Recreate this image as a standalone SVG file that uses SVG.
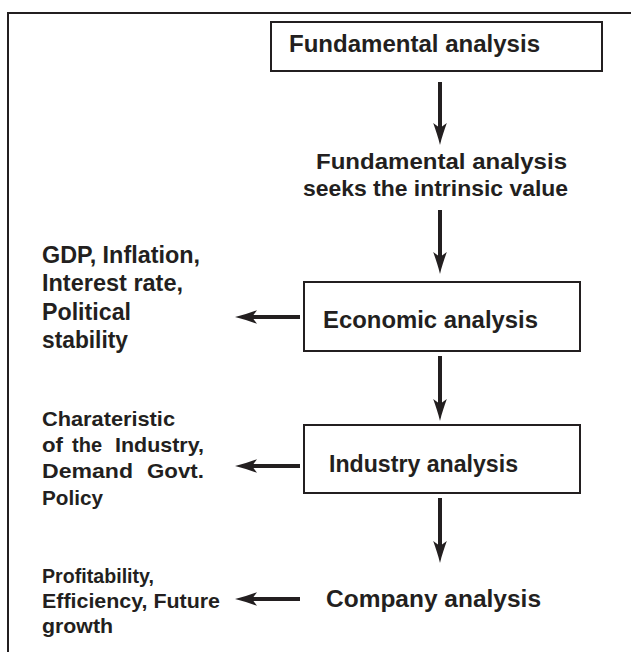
<svg xmlns="http://www.w3.org/2000/svg" width="631" height="652" viewBox="0 0 631 652">
<style>
.t{font-family:"Liberation Sans",Arial,sans-serif;font-weight:bold;fill:#231f20}
.b{font-size:23.5px}
.s{font-size:22px}
.g{font-size:23px}
.m{font-size:21px}
.box{fill:#fff;stroke:#231f20;stroke-width:2}
.c{stroke:#231f20;stroke-width:4;fill:none}
</style>
<defs>
<marker id="ah" markerUnits="userSpaceOnUse" markerWidth="26" markerHeight="18" refX="10" refY="8" orient="auto" overflow="visible">
<path d="M22,8 C14,6.2 7,3.6 0,1.2 L5,8 L0,14.8 C7,12.4 14,9.8 22,8 Z" fill="#231f20"/>
</marker>
</defs>
<path d="M8,652 V13 H631" fill="none" stroke="#231f20" stroke-width="2"/>
<g id="connectors">
<line class="c" x1="440" y1="82" x2="440" y2="133" marker-end="url(#ah)"/>
<line class="c" x1="440" y1="210" x2="440" y2="262" marker-end="url(#ah)"/>
<line class="c" x1="440" y1="356" x2="440" y2="409" marker-end="url(#ah)"/>
<line class="c" x1="440" y1="498" x2="440" y2="551" marker-end="url(#ah)"/>
<line class="c" x1="300" y1="317" x2="247" y2="317" marker-end="url(#ah)"/>
<line class="c" x1="300" y1="466" x2="247" y2="466" marker-end="url(#ah)"/>
<line class="c" x1="300" y1="599" x2="247" y2="599" marker-end="url(#ah)"/>
</g>
<g id="fundamental">
<rect class="box" x="271" y="22" width="331" height="49"/>
<text class="t b" x="289" y="52" textLength="251" lengthAdjust="spacingAndGlyphs">Fundamental analysis</text>
</g>
<g id="intrinsic">
<text class="t s" x="316" y="169" textLength="251" lengthAdjust="spacingAndGlyphs">Fundamental analysis</text>
<text class="t s" x="303" y="196" textLength="265" lengthAdjust="spacingAndGlyphs">seeks the intrinsic value</text>
</g>
<g id="economic">
<rect class="box" x="304" y="282" width="276" height="69"/>
<text class="t b" x="323" y="328" textLength="215" lengthAdjust="spacingAndGlyphs">Economic analysis</text>
</g>
<g id="industry">
<rect class="box" x="304" y="425" width="276" height="68"/>
<text class="t b" x="329" y="472" textLength="189" lengthAdjust="spacingAndGlyphs">Industry analysis</text>
</g>
<g id="company">
<text class="t b" x="326" y="607" textLength="215" lengthAdjust="spacingAndGlyphs">Company analysis</text>
</g>
<g id="economic-factors">
<text class="t g" x="42" y="263" textLength="158" lengthAdjust="spacingAndGlyphs">GDP, Inflation,</text>
<text class="t g" x="42" y="291" textLength="141" lengthAdjust="spacingAndGlyphs">Interest rate,</text>
<text class="t g" x="42" y="320" textLength="89" lengthAdjust="spacingAndGlyphs">Political</text>
<text class="t g" x="42" y="348" textLength="86" lengthAdjust="spacingAndGlyphs">stability</text>
</g>
<g id="industry-factors">
<text class="t m" x="42" y="426" textLength="133" lengthAdjust="spacingAndGlyphs">Charateristic</text>
<text class="t m" y="452"><tspan x="42" textLength="21" lengthAdjust="spacingAndGlyphs">of</tspan> <tspan x="72" textLength="30" lengthAdjust="spacingAndGlyphs">the</tspan> <tspan x="115" textLength="89" lengthAdjust="spacingAndGlyphs">Industry,</tspan></text>
<text class="t m" y="478"><tspan x="42" textLength="91" lengthAdjust="spacingAndGlyphs">Demand</tspan> <tspan x="147" textLength="57" lengthAdjust="spacingAndGlyphs">Govt.</tspan></text>
<text class="t m" x="42" y="505" textLength="61" lengthAdjust="spacingAndGlyphs">Policy</text>
</g>
<g id="company-factors">
<text class="t m" x="42" y="583" textLength="112" lengthAdjust="spacingAndGlyphs">Profitability,</text>
<text class="t m" x="42" y="608" textLength="178" lengthAdjust="spacingAndGlyphs">Efficiency, Future</text>
<text class="t m" x="42" y="633" textLength="71" lengthAdjust="spacingAndGlyphs">growth</text>
</g>
</svg>
